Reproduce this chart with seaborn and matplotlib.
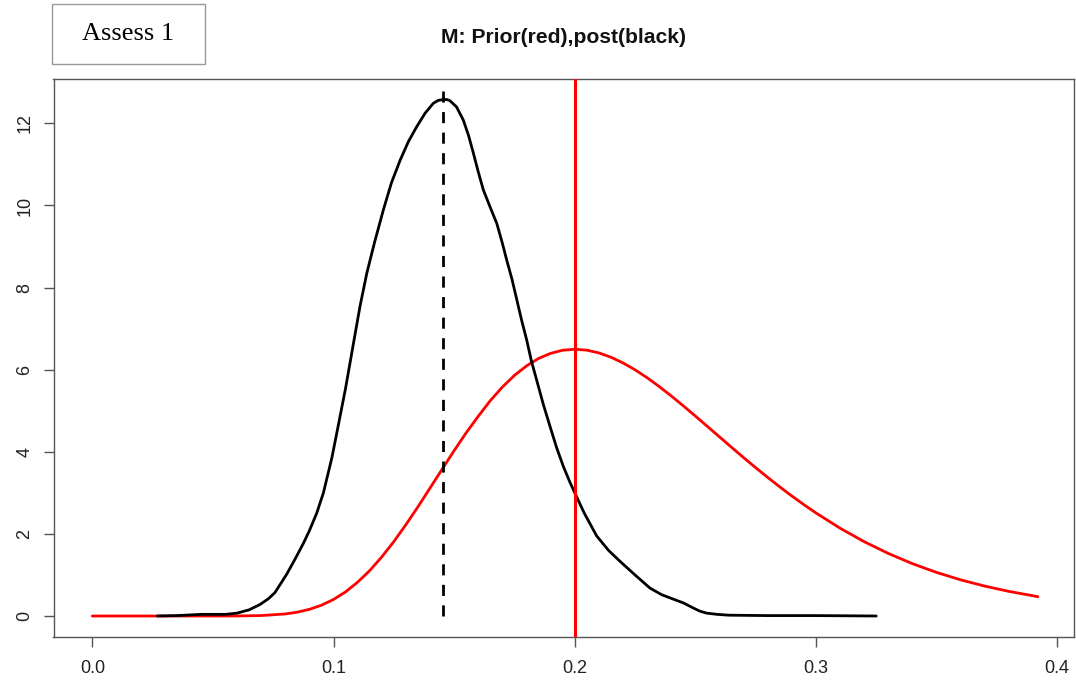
import matplotlib
matplotlib.use("Agg")
import matplotlib.pyplot as plt
import matplotlib.transforms as mtransforms
from matplotlib.patches import Rectangle
import seaborn as sns
import pandas as pd

# ---- data ----
prior_x = [0.0, 0.01, 0.02, 0.03, 0.04, 0.05, 0.06, 0.07, 0.08, 0.085, 0.09, 0.095,
           0.10, 0.105, 0.11, 0.115, 0.12, 0.125, 0.13, 0.135, 0.14, 0.145, 0.15, 0.155,
           0.16, 0.165, 0.17, 0.175, 0.18, 0.185, 0.19, 0.195, 0.20, 0.205, 0.21, 0.215,
           0.22, 0.225, 0.23, 0.235, 0.24, 0.245, 0.25, 0.255, 0.26, 0.265, 0.27, 0.275,
           0.28, 0.285, 0.29, 0.295, 0.30, 0.31, 0.32, 0.33, 0.34, 0.35, 0.36, 0.37,
           0.38, 0.39, 0.392]
prior_y = [0.0, 0.0, 0.0, 0.0, 0.0, 0.0001, 0.0015, 0.011, 0.050, 0.094, 0.163, 0.263,
           0.403, 0.588, 0.824, 1.106, 1.440, 1.812, 2.224, 2.660, 3.116, 3.573, 4.028, 4.463,
           4.865, 5.246, 5.577, 5.860, 6.091, 6.273, 6.397, 6.473, 6.498, 6.475, 6.409, 6.304,
           6.165, 5.997, 5.804, 5.590, 5.361, 5.120, 4.871, 4.618, 4.364, 4.110, 3.859, 3.614,
           3.376, 3.146, 2.924, 2.712, 2.511, 2.139, 1.811, 1.524, 1.275, 1.062, 0.881, 0.728,
           0.600, 0.493, 0.47]

post_x = [0.027, 0.035, 0.045, 0.055, 0.060, 0.065, 0.0695, 0.073, 0.0757, 0.078,
          0.0806, 0.084, 0.0875, 0.090, 0.093, 0.0958, 0.0993, 0.102, 0.105, 0.1082,
          0.111, 0.1138, 0.117, 0.1207, 0.124, 0.1276, 0.131, 0.1345, 0.138, 0.1414,
          0.1435, 0.1455, 0.147, 0.1483, 0.151, 0.1538, 0.156, 0.158, 0.160, 0.1621,
          0.165, 0.1677, 0.170, 0.1718, 0.174, 0.176, 0.178, 0.1801, 0.182, 0.1842,
          0.187, 0.1898, 0.1925, 0.1953, 0.198, 0.2001, 0.204, 0.2091, 0.214, 0.2188,
          0.225, 0.2312, 0.236, 0.2409, 0.245, 0.249, 0.2518, 0.2547, 0.259, 0.264,
          0.28, 0.30, 0.325]
post_y = [0.0, 0.01, 0.04, 0.04, 0.07, 0.15, 0.28, 0.42, 0.57, 0.78,
          1.02, 1.38, 1.77, 2.08, 2.50, 3.00, 3.85, 4.65, 5.55, 6.62,
          7.55, 8.35, 9.10, 9.90, 10.55, 11.10, 11.55, 11.92, 12.25, 12.49,
          12.56, 12.58, 12.58, 12.55, 12.40, 12.08, 11.70, 11.27, 10.82, 10.38,
          9.95, 9.56, 9.08, 8.67, 8.20, 7.70, 7.20, 6.72, 6.22, 5.75,
          5.15, 4.61, 4.10, 3.64, 3.26, 2.99, 2.50, 1.95, 1.60, 1.33,
          1.00, 0.68, 0.52, 0.41, 0.32, 0.20, 0.12, 0.07, 0.04, 0.02,
          0.01, 0.01, 0.0]

prior_mode = 0.2
post_median = 0.1455
post_top = 12.86

x_ticks = [0.0, 0.1, 0.2, 0.3, 0.4]
x_ticklabels = ["0.0", "0.1", "0.2", "0.3", "0.4"]
y_ticks = [0, 2, 4, 6, 8, 10, 12]
y_ticklabels = ["0", "2", "4", "6", "8", "10", "12"]

title = "M: Prior(red),post(black)"
panel_label = "Assess 1"

# ---- styling ----
sns.set_theme(style="white")
plt.rcParams["font.family"] = ["Liberation Sans", "DejaVu Sans"]

W, H = 1076, 684
fig = plt.figure(figsize=(W / 100, H / 100), dpi=100)
ax = fig.add_axes([53.5 / W, 1 - 636.7 / H, (1074 - 53.5) / W, (636.7 - 79) / H])

prior_df = pd.DataFrame({"x": prior_x, "y": prior_y})
post_df = pd.DataFrame({"x": post_x, "y": post_y})

sns.lineplot(data=prior_df, x="x", y="y", ax=ax, color="#ff0000", linewidth=2.0,
             errorbar=None, zorder=2, solid_joinstyle="round")
sns.lineplot(data=post_df, x="x", y="y", ax=ax, color="black", linewidth=2.0,
             errorbar=None, zorder=3, solid_joinstyle="round")
ax.vlines(post_median, 0, post_top, colors="black", linewidth=2.0,
          linestyles=(0, (4, 3.4)), zorder=4)
ax.axvline(prior_mode, color="#ff0000", linewidth=2.2, zorder=5)

ax.set_xlim(-0.0161, 0.4070)
ax.set_ylim(-0.504, 13.08)
ax.set_xticks(x_ticks)
ax.set_xticklabels(x_ticklabels)
ax.set_yticks(y_ticks)
ax.set_yticklabels(y_ticklabels, rotation=90, va="center")
ax.set_xlabel("")
ax.set_ylabel("")

frame_color = "#555555"
for s in ax.spines.values():
    s.set_visible(True)
    s.set_color(frame_color)
    s.set_linewidth(1.0)
ax.tick_params(axis="both", which="major", direction="out", length=7.5, width=1.0,
               color=frame_color, labelsize=13, labelcolor="#222222",
               bottom=True, left=True)
ax.tick_params(axis="x", pad=9)
ax.tick_params(axis="y", pad=7)
ax.grid(False)
ax.set_facecolor("white")

# title centred over the axes
trans = mtransforms.blended_transform_factory(ax.transAxes, fig.transFigure)
ax.text(0.5, 1 - 43 / H, title, transform=trans, ha="center", va="baseline",
        fontsize=15.2, fontweight="bold", color="#111111")

# "Assess 1" box
fig.patches.append(Rectangle((52 / W, 1 - 64 / H), (205 - 52) / W, 60 / H,
                             transform=fig.transFigure, fill=False,
                             edgecolor="#999999", linewidth=1.0))
fig.text(128.5 / W, 1 - 39.5 / H, panel_label, ha="center", va="baseline",
         fontsize=19, family=["Liberation Serif", "DejaVu Serif"], color="black")

fig.savefig("out.png", dpi=100)
